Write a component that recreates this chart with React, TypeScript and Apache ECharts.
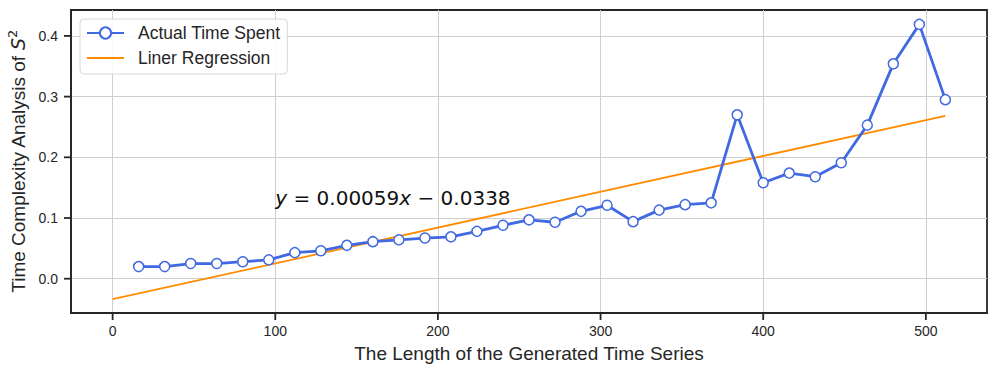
import React, { useEffect, useRef } from "react";
import * as echarts from "echarts";

const lengths = [16, 32, 48, 64, 80, 96, 112, 128, 144, 160, 176, 192, 208, 224, 240, 256, 272, 288, 304, 320, 336, 352, 368, 384, 400, 416, 432, 448, 464, 480, 496, 512];
const timeSpent = [0.020, 0.020, 0.025, 0.025, 0.028, 0.031, 0.043, 0.046, 0.055, 0.061, 0.064, 0.067, 0.069, 0.078, 0.088, 0.097, 0.093, 0.111, 0.121, 0.094, 0.113, 0.122, 0.125, 0.270, 0.158, 0.174, 0.168, 0.191, 0.253, 0.354, 0.419, 0.295];
const regX = [0, 512];
const regY = [-0.0338, 0.2683];
const xTicks = [0, 100, 200, 300, 400, 500];
const yTicks = [0, 0.1, 0.2, 0.3, 0.4];
const xRange = [-25.6, 537.6];
const yRange = [-0.0565, 0.4427];
const annotationPos = [100, 0.12];

const SANS = "'Liberation Sans', Arial, sans-serif";
const DEJAVU = "'DejaVu Sans', sans-serif";
const TXT = "#262626";
const BLUE = "#4169E1";
const ORANGE = "#FF8C00";
const FRAME = "#262626";

export default function App() {
  const ref = useRef<HTMLDivElement>(null);
  useEffect(() => {
    if (!ref.current) return;
    const chart = echarts.init(ref.current, undefined, { renderer: "svg" });
    chart.setOption({
      animation: false,
      backgroundColor: "#ffffff",
      grid: {
        left: 71, top: 10, right: 9, bottom: 60,
        show: true, borderColor: FRAME, borderWidth: 1.8,
        containLabel: false, outerBoundsMode: "none",
      },
      legend: {
        left: 80, top: 19,
        orient: "vertical",
        padding: [4, 7, 6, 6],
        itemGap: 5,
        itemWidth: 37, itemHeight: 14,
        backgroundColor: "rgba(255,255,255,0.85)",
        borderColor: "#d8d8d8", borderWidth: 1, borderRadius: 4,
        textStyle: { fontFamily: SANS, fontSize: 17.5, color: TXT, lineHeight: 20, padding: [0, 0, 0, 9] },
        data: [
          { name: "Actual Time Spent" },
          { name: "Liner Regression", icon: "path://M0,0h37v1.8h-37z", itemStyle: { color: ORANGE, borderWidth: 0 } },
        ],
      },
      xAxis: {
        type: "value",
        min: xRange[0], max: xRange[1],
        name: "The Length of the Generated Time Series",
        nameLocation: "middle", nameGap: 29,
        nameTextStyle: { fontFamily: SANS, fontSize: 19, color: TXT, lineHeight: 22 },
        axisLine: { show: true, onZero: false, lineStyle: { color: FRAME, width: 1.8 } },
        axisTick: { show: false, customValues: xTicks },
        axisLabel: { customValues: xTicks, margin: 11, fontFamily: SANS, fontSize: 14, color: TXT, formatter: (v: number) => String(v) },
        splitLine: { show: true, lineStyle: { color: "#cfcfcf", width: 1 } },
      },
      yAxis: {
        type: "value",
        min: yRange[0], max: yRange[1],
        name: "{n|Time Complexity Analysis of }{s|S}{sup|2}",
        nameLocation: "middle", nameGap: 40, nameRotate: 90,
        nameTextStyle: {
          rich: {
            n: { fontFamily: SANS, fontSize: 19, color: TXT, lineHeight: 24 },
            s: { fontFamily: DEJAVU, fontStyle: "italic", fontSize: 19, color: TXT, lineHeight: 24 },
            sup: { fontFamily: DEJAVU, fontSize: 13, color: TXT, verticalAlign: "top", lineHeight: 14 },
          },
        },
        axisLine: { show: true, onZero: false, lineStyle: { color: FRAME, width: 1.8 } },
        axisTick: { show: false, customValues: yTicks },
        axisLabel: { customValues: yTicks, margin: 13, fontFamily: SANS, fontSize: 14, color: TXT, formatter: (v: number) => v.toFixed(1) },
        splitLine: { show: true, lineStyle: { color: "#cfcfcf", width: 1 } },
      },
      series: [
        {
          name: "Actual Time Spent",
          type: "line",
          data: lengths.map((x, i) => [x, timeSpent[i]]),
          symbol: "circle", symbolSize: 10,
          lineStyle: { color: BLUE, width: 2.8 },
          itemStyle: { color: "#ffffff", borderColor: BLUE, borderWidth: 1.5 },
          z: 3,
        },
        {
          name: "Liner Regression",
          type: "line",
          data: regX.map((x, i) => [x, regY[i]]),
          symbol: "none",
          lineStyle: { color: ORANGE, width: 1.8 },
          itemStyle: { color: ORANGE },
          z: 2,
        },
      ],
    });
    const toPx = (v: number[]) => chart.convertToPixel({ gridIndex: 0 }, v) as number[];
    const tickEls: any[] = [];
    xTicks.forEach((v) => {
      const pt = toPx([v, yRange[0]]);
      tickEls.push({ type: "rect", z: 20, silent: true, shape: { x: pt[0] - 0.9, y: pt[1], width: 1.8, height: 7 }, style: { fill: FRAME } });
    });
    yTicks.forEach((v) => {
      const pt = toPx([xRange[0], v]);
      tickEls.push({ type: "rect", z: 20, silent: true, shape: { x: pt[0] - 7, y: pt[1] - 0.9, width: 7, height: 1.8 }, style: { fill: FRAME } });
    });
    const p = toPx(annotationPos);
    chart.setOption({
      graphic: [
        ...tickEls,
        {
          type: "text",
          x: p[0], y: p[1] + 2,
          z: 10,
          style: {
            text: "{i|y} = 0.00059{i|x} − 0.0338",
            verticalAlign: "bottom",
            align: "left",
            fontFamily: DEJAVU, fontSize: 20, fill: "#111",
            rich: {
              i: { fontFamily: DEJAVU, fontStyle: "italic", fontSize: 20, fill: "#111" },
            },
          },
        },
      ],
    });
    return () => chart.dispose();
  }, []);
  return <div ref={ref} style={{ position: "fixed", left: 0, top: 0, width: 996, height: 373 }} />;
}
